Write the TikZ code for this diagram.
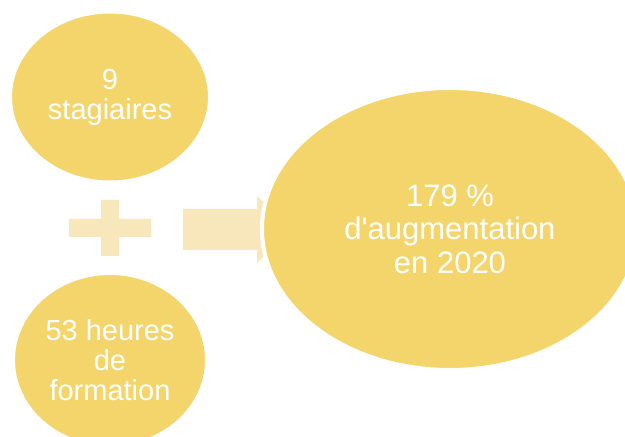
\documentclass[tikz,border=0pt]{standalone}
\usepackage{fontspec}
\setmainfont{Liberation Sans}
\usetikzlibrary{shapes.geometric}
\definecolor{gold}{HTML}{F3D56B}
\definecolor{lightgold}{HTML}{F8E7BA}

\begin{document}
\begin{tikzpicture}[x=1pt, y=1pt,
    bubble/.style={ellipse, fill=gold, draw=white, line width=2pt, text=white, align=center, inner sep=0pt},
    small/.style={font=\fontsize{29}{30}\selectfont},
    big/.style={font=\fontsize{31}{33.5}\selectfont}]
  \clip (0,0) rectangle (625,437);
  \fill[white] (0,0) rectangle (625,437);
  % the two inputs
  \node[bubble, small, minimum width=198pt, minimum height=169pt] (trainees) at (110,340) {9\\stagiaires};
  \node[bubble, small, minimum width=192pt, minimum height=172pt] (hours) at (110,77) {53 heures\\de\\formation};
  % plus sign
  \fill[lightgold] (101,181) -- (119,181) -- (119,200) -- (151,200) -- (151,218) -- (119,218)
    -- (119,237) -- (101,237) -- (101,218) -- (69,218) -- (69,200) -- (101,200) -- cycle;
  % block arrow
  \fill[lightgold] (183,187) -- (257,187) -- (257,174) -- (291,207.5) -- (257,241) -- (257,228) -- (183,228) -- cycle;
  % the result
  \node[bubble, big, line width=4pt, minimum width=376pt, minimum height=282pt] (growth) at (450,208) {179 \%\\d\textquotesingle augmentation\\en 2020};
\end{tikzpicture}
\end{document}
